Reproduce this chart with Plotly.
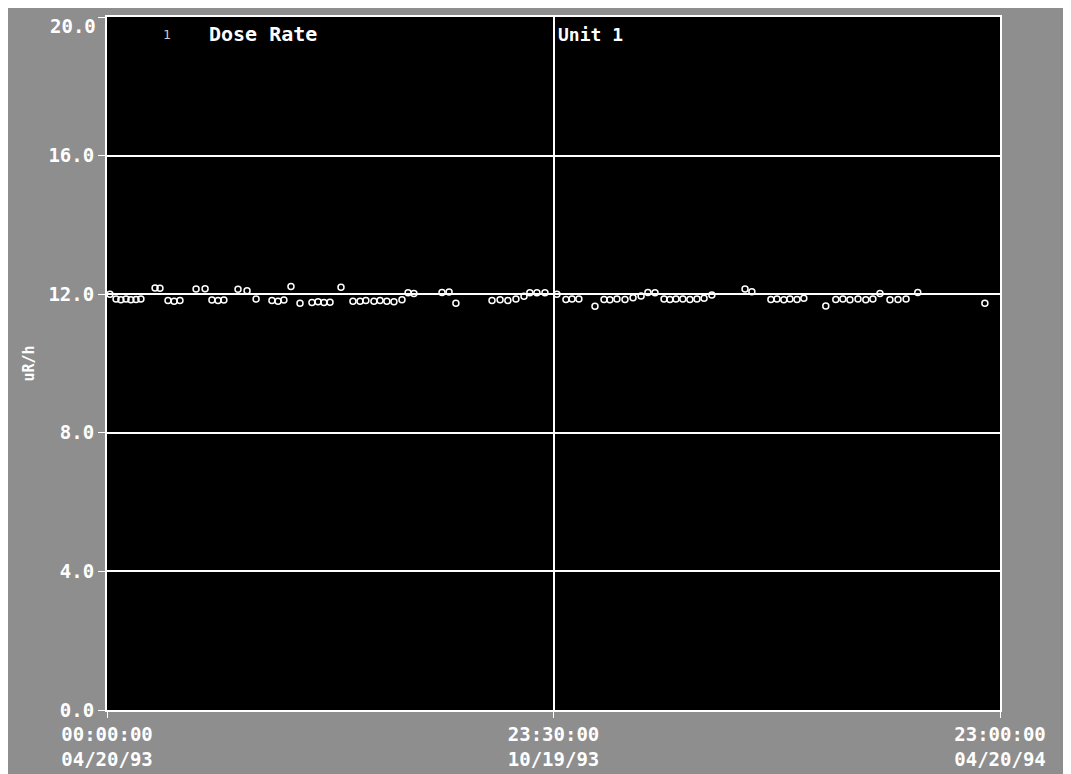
import plotly.graph_objects as go

# Days since 04/20/93 00:00:00
days = [1.2, 3.7, 5.7, 7.8, 9.8, 11.9, 13.9, 19.7, 21.7, 25.0, 27.5, 29.9, 36.5, 40.2,
        43.0, 45.5, 47.9, 53.7, 57.4, 61.1, 67.6, 70.1, 72.5, 75.4, 79.1, 84.0, 86.5,
        88.9, 91.4, 95.9, 100.8, 103.7, 106.1, 109.4, 111.9, 114.7, 117.6, 120.9, 123.4,
        125.8, 137.3, 140.2, 143.0, 157.8, 161.1, 164.3, 167.6, 170.9, 173.3, 176.2,
        179.5, 184.4, 188.1, 190.6, 193.4, 200.0, 203.7, 206.1, 209.0, 212.3, 215.6,
        218.9, 221.7, 224.6, 228.3, 230.7, 233.2, 236.0, 238.9, 241.8, 244.7, 247.9,
        261.5, 264.3, 272.1, 274.6, 277.4, 279.9, 282.8, 285.6, 294.6, 298.7, 301.6,
        304.5, 307.8, 311.0, 313.9, 316.8, 320.9, 324.2, 327.5, 332.3, 359.8]
dose_rate = [12.0, 11.86, 11.84, 11.86, 11.84, 11.85, 11.86, 12.18, 12.17, 11.82, 11.8,
             11.82, 12.15, 12.16, 11.83, 11.82, 11.83, 12.14, 12.1, 11.86, 11.82, 11.8,
             11.83, 12.22, 11.74, 11.76, 11.78, 11.76, 11.77, 12.2, 11.8, 11.8, 11.82,
             11.8, 11.82, 11.8, 11.78, 11.84, 12.04, 12.02, 12.05, 12.06, 11.74, 11.82,
             11.84, 11.82, 11.86, 11.94, 12.04, 12.04, 12.04, 12.0, 11.85, 11.86, 11.86,
             11.65, 11.85, 11.84, 11.86, 11.85, 11.9, 11.95, 12.05, 12.04, 11.86, 11.85,
             11.86, 11.86, 11.85, 11.86, 11.88, 11.98, 12.15, 12.07, 11.85, 11.86, 11.84,
             11.86, 11.85, 11.88, 11.66, 11.85, 11.86, 11.84, 11.86, 11.84, 11.86, 12.02,
             11.84, 11.85, 11.86, 12.05, 11.74]

x_tick_vals = [0, 183, 366]
x_tick_text = ["00:00:00<br>04/20/93", "23:30:00<br>10/19/93", "23:00:00<br>04/20/94"]
y_tick_vals = [0, 4, 8, 12, 16, 20]
y_tick_text = ["0.0", "4.0", "8.0", "12.0", "16.0", "20.0"]

FONT = "DejaVu Sans Mono"
TICKFONT = dict(family=FONT, size=19, color="white", weight="bold")

fig = go.Figure()
fig.add_trace(go.Scatter(
    x=days, y=dose_rate, mode="markers",
    marker=dict(symbol="circle-open", size=6, color="white", line=dict(width=1.5, color="white")),
    showlegend=False,
))

fig.update_layout(
    width=1063, height=766,
    paper_bgcolor="#8e8e8e",
    plot_bgcolor="black",
    margin=dict(l=99, r=71, t=9, b=64, autoexpand=False),
    font=dict(family=FONT, color="white", size=15),
    xaxis=dict(
        range=[0, 366], tickvals=x_tick_vals, ticktext=x_tick_text, automargin=False,
        showgrid=True, gridcolor="white", gridwidth=2, zeroline=False,
        showline=True, linecolor="white", linewidth=2, mirror=True,
        ticks="outside", tickcolor="white", ticklen=6,
        tickfont=TICKFONT,
    ),
    yaxis=dict(
        range=[0, 20], tickvals=y_tick_vals, ticktext=y_tick_text, automargin=False,
        showgrid=True, gridcolor="white", gridwidth=2, zeroline=False,
        showline=True, linecolor="white", linewidth=2, mirror=True,
        ticks="outside", tickcolor="white", ticklen=7,
        tickfont=TICKFONT,
        title=dict(text="uR/h", standoff=10, font=dict(family=FONT, size=15, color="white", weight="bold")),
    ),
    annotations=[
        # top tick label (Plotly hides it because it touches the page edge)
        dict(text=y_tick_text[-1], x=0, y=y_tick_vals[-1], xref="paper", yref="y", showarrow=False,
             xanchor="right", yanchor="top", xshift=-9, yshift=4, font=TICKFONT),
        dict(text="1", x=0.06, y=0.975, xref="paper", yref="paper", showarrow=False,
             xanchor="left", yanchor="middle", font=dict(family=FONT, size=13, color="#cccccc")),
        dict(text="<b>Dose Rate</b>", x=0.112, y=0.975, xref="paper", yref="paper", showarrow=False,
             xanchor="left", yanchor="middle", font=dict(family=FONT, size=20, color="white")),
        dict(text="<b>Unit 1</b>", x=0.503, y=0.975, xref="paper", yref="paper", showarrow=False,
             xanchor="left", yanchor="middle", font=dict(family=FONT, size=18, color="white")),
    ],
)

fig.write_html("out.html")
